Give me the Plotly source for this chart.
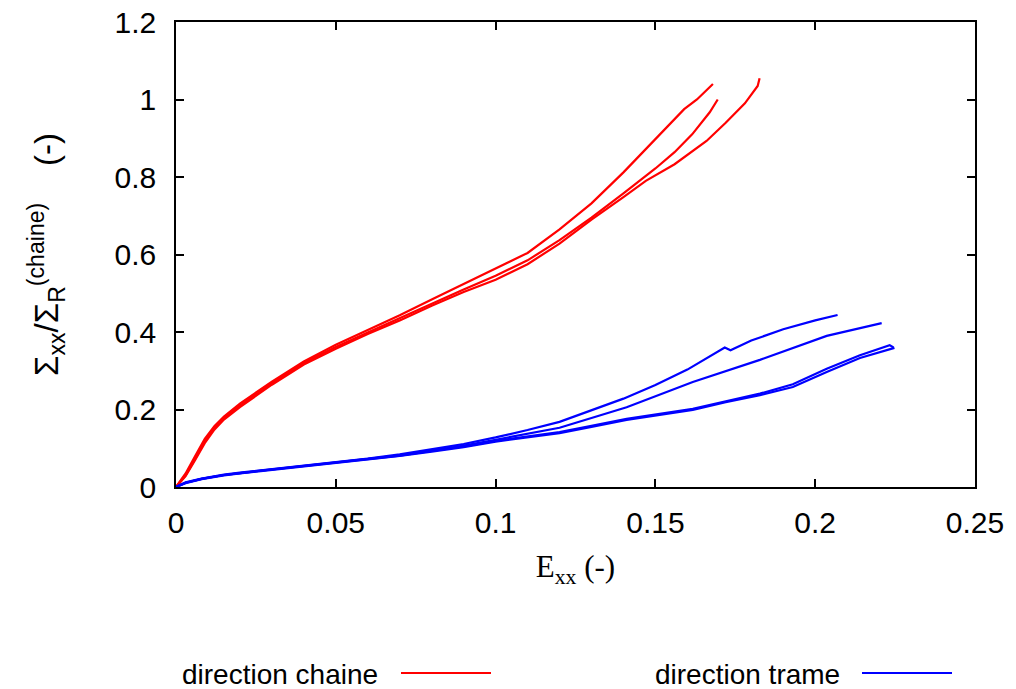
import plotly.graph_objects as go

# ---- data ----
red1_x = [0, 0.003, 0.006, 0.009, 0.012, 0.015, 0.02, 0.025, 0.03, 0.04, 0.05, 0.06, 0.07, 0.08, 0.09, 0.1,
          0.11, 0.12, 0.13, 0.14, 0.15, 0.155, 0.159, 0.163, 0.165, 0.168]
red1_y = [0, 0.035, 0.08, 0.124, 0.157, 0.182, 0.215, 0.244, 0.272, 0.324, 0.367, 0.405, 0.443, 0.484, 0.524, 0.562,
          0.604, 0.665, 0.732, 0.812, 0.897, 0.94, 0.975, 1.0, 1.017, 1.04]
red2_x = [0, 0.003, 0.006, 0.009, 0.012, 0.015, 0.02, 0.025, 0.03, 0.04, 0.05, 0.06, 0.07, 0.08, 0.09, 0.1,
          0.11, 0.12, 0.13, 0.14, 0.15, 0.156, 0.1615, 0.167, 0.169, 0.1695]
red2_y = [0, 0.03, 0.073, 0.118, 0.152, 0.178, 0.21, 0.24, 0.268, 0.32, 0.361, 0.399, 0.436, 0.475, 0.51, 0.545,
          0.585, 0.637, 0.695, 0.758, 0.822, 0.864, 0.91, 0.967, 0.993, 1.0]
red3_x = [0, 0.003, 0.006, 0.009, 0.012, 0.015, 0.02, 0.025, 0.03, 0.04, 0.05, 0.06, 0.07, 0.08, 0.09, 0.1,
          0.11, 0.12, 0.13, 0.14, 0.147, 0.156, 0.166, 0.172, 0.178, 0.182, 0.1826]
red3_y = [0, 0.028, 0.07, 0.113, 0.148, 0.174, 0.206, 0.236, 0.264, 0.316, 0.357, 0.395, 0.43, 0.468, 0.503, 0.535,
          0.575, 0.628, 0.69, 0.748, 0.79, 0.833, 0.893, 0.94, 0.99, 1.035, 1.055]

blue1_x = [0, 0.003, 0.008, 0.015, 0.02, 0.03, 0.04, 0.05, 0.06, 0.07, 0.08, 0.09, 0.1, 0.11, 0.12, 0.13,
           0.14, 0.15, 0.16, 0.1717, 0.1735, 0.18, 0.19, 0.2, 0.207]
blue1_y = [0, 0.012, 0.022, 0.032, 0.037, 0.046, 0.055, 0.064, 0.073, 0.084, 0.097, 0.111, 0.128, 0.147, 0.168, 0.197,
           0.228, 0.263, 0.303, 0.36, 0.353, 0.378, 0.407, 0.43, 0.444]
blue2_x = [0, 0.003, 0.008, 0.015, 0.02, 0.03, 0.04, 0.05, 0.06, 0.07, 0.08, 0.09, 0.1, 0.11, 0.12, 0.13,
           0.141, 0.1617, 0.1827, 0.2036, 0.2208]
blue2_y = [0, 0.011, 0.021, 0.031, 0.036, 0.045, 0.054, 0.063, 0.072, 0.082, 0.094, 0.107, 0.122, 0.137, 0.153, 0.178,
           0.206, 0.271, 0.328, 0.39, 0.423]
blue3_x = [0, 0.003, 0.008, 0.015, 0.02, 0.03, 0.04, 0.05, 0.06, 0.07, 0.08, 0.09, 0.1, 0.11, 0.12, 0.13,
           0.141, 0.1617, 0.172, 0.1827, 0.193, 0.2036, 0.214, 0.2248]
blue3_y = [0, 0.01, 0.02, 0.03, 0.035, 0.044, 0.053, 0.062, 0.071, 0.08, 0.091, 0.103, 0.117, 0.128, 0.139, 0.155,
           0.173, 0.199, 0.219, 0.237, 0.258, 0.297, 0.333, 0.359]
blue4_x = [0, 0.003, 0.008, 0.015, 0.02, 0.03, 0.04, 0.05, 0.06, 0.07, 0.08, 0.09, 0.1, 0.11, 0.12, 0.13,
           0.141, 0.1617, 0.172, 0.1827, 0.193, 0.2036, 0.214, 0.2233, 0.2245]
blue4_y = [0, 0.011, 0.021, 0.031, 0.036, 0.045, 0.054, 0.063, 0.072, 0.081, 0.093, 0.105, 0.119, 0.13, 0.142, 0.158,
           0.176, 0.202, 0.222, 0.241, 0.265, 0.305, 0.34, 0.366, 0.36]

red_curves = [(red1_x, red1_y), (red2_x, red2_y), (red3_x, red3_y)]
blue_curves = [(blue1_x, blue1_y), (blue2_x, blue2_y), (blue3_x, blue3_y), (blue4_x, blue4_y)]

fig = go.Figure()
for x, y in red_curves:
    fig.add_trace(go.Scatter(x=x, y=y, mode="lines", line=dict(color="#ff0000", width=2.2),
                             name="direction chaine", showlegend=False))
for x, y in blue_curves:
    fig.add_trace(go.Scatter(x=x, y=y, mode="lines", line=dict(color="#0000ff", width=2.2),
                             name="direction trame", showlegend=False))

# page body has an 8px margin: compensate so the plot lands where the reference has it
OFF = 8
W, H = 1016 - OFF, 689 - OFF
L, T = 176 - OFF, 22 - OFF
R = W - (975 - OFF)
B = H - (487 - OFF)
pw, ph = W - L - R, H - T - B


def px(x):
    return (x - OFF - L) / pw


def py(y):
    return (487 - y) / ph


FONT = "Liberation Sans"
axis_common = dict(showline=True, linecolor="black", linewidth=1.5, mirror="ticks", ticks="inside",
                   ticklen=8, tickwidth=1.5, tickcolor="black", showgrid=False, zeroline=False,
                   ticklabeloverflow="allow", automargin=False,
                   tickfont=dict(family=FONT, size=30, color="black"))

fig.update_layout(
    width=W, height=H, margin=dict(l=L, r=R, t=T, b=B),
    plot_bgcolor="white", paper_bgcolor="white",
    showlegend=False,
    xaxis=dict(range=[0, 0.25], dtick=0.05, tick0=0, ticklabelstandoff=8,
               title=dict(text="E<sub>xx</sub> (-)", font=dict(family="Liberation Serif", size=31, color="black"),
                          standoff=18), **axis_common),
    yaxis=dict(range=[0, 1.2], dtick=0.2, tick0=0, ticklabelstandoff=12,
               title=dict(text="Σ<sub>xx</sub>/Σ<sub>R</sub><sup>(chaine)</sup>    (-)",
                          font=dict(family=FONT, size=33, color="black"), standoff=46), **axis_common),
)

# legend drawn gnuplot-style: text followed by line sample
legend_items = [("direction chaine", "#ff0000", 380, 401, 491), ("direction trame", "#0000ff", 842, 862, 952)]
for text, col, tx, x0, x1 in legend_items:
    fig.add_annotation(text=text, xref="paper", yref="paper", x=px(tx), y=py(674), xanchor="right",
                       yanchor="middle", showarrow=False, font=dict(family=FONT, size=28, color="black"))
    fig.add_shape(type="line", xref="paper", yref="paper", x0=px(x0), x1=px(x1), y0=py(673), y1=py(673),
                  line=dict(color=col, width=2.2))

fig.write_html("out.html")
